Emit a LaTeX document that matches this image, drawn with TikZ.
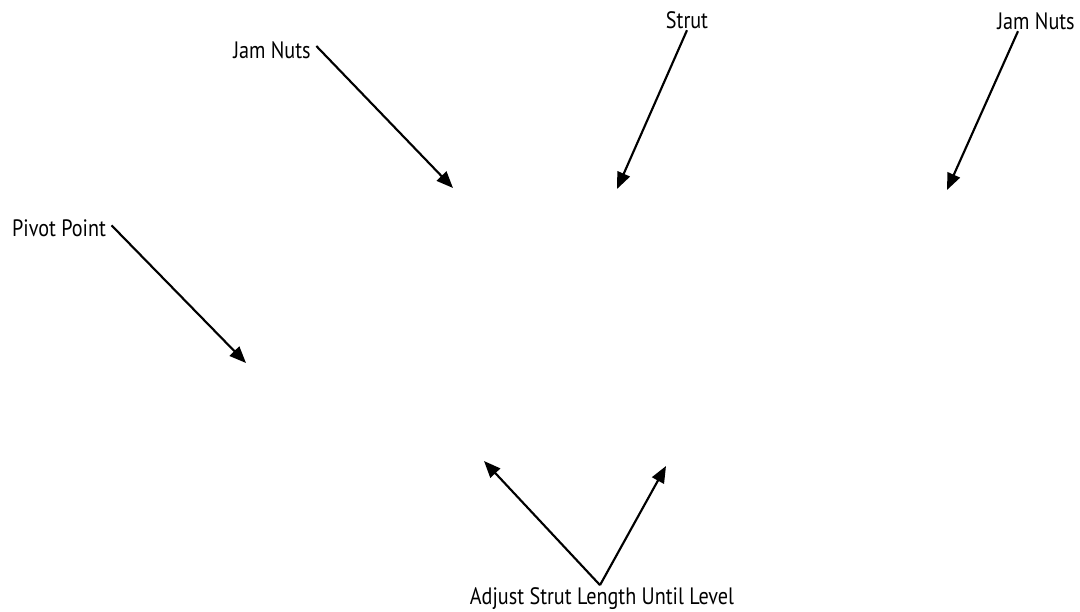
\documentclass[tikz,border=0pt]{standalone}
\usepackage{fontspec}
\setmainfont[FakeStretch=0.85]{PT Sans}
\usepackage{tikz}
\usetikzlibrary{arrows.meta}

\tikzset{
  label text/.style={inner sep=2pt, font=\fontsize{17.8}{20}\selectfont},
  pointer/.style={line width=1.6pt, -{Triangle[length=12.5pt,width=10pt]}}
}

\begin{document}
\begin{tikzpicture}[x=0.75pt,y=0.75pt,yscale=-1,xscale=1]
\useasboundingbox (0,0) rectangle (1080,611);

% Text Nodes
\node [label text] (jamLeft) at (272,50) {Jam Nuts};
\node [label text] (strut) at (687,20) {Strut};
\node [label text] (jamRight) at (1036,21) {Jam Nuts};
\node [label text] (pivot) at (59,228) {Pivot Point};
\node [label text] (adjust) at (602,599) {Adjust Strut Length Until Level};

% arrow tips
\coordinate (jamLeftTip) at (453,188);
\coordinate (strutTip) at (617,189);
\coordinate (jamRightTip) at (947,190);
\coordinate (pivotTip) at (246,363);
\coordinate (adjustTipL) at (484,461);
\coordinate (adjustTipR) at (666,466);

% Arrows
\draw [pointer] ([xshift=2pt,yshift=-3pt]jamLeft.east) -- (jamLeftTip);
\draw [pointer] ([yshift=-1pt]strut.south) -- (strutTip);
\draw [pointer] ([xshift=-13.5pt,yshift=-1pt]jamRight.south) -- (jamRightTip);
\draw [pointer] ([xshift=2pt,yshift=-2pt]pivot.east) -- (pivotTip);
\draw [pointer] ([xshift=-1.5pt]adjust.north) -- (adjustTipL);
\draw [pointer] ([xshift=-1.5pt]adjust.north) -- (adjustTipR);

\end{tikzpicture}
\end{document}
